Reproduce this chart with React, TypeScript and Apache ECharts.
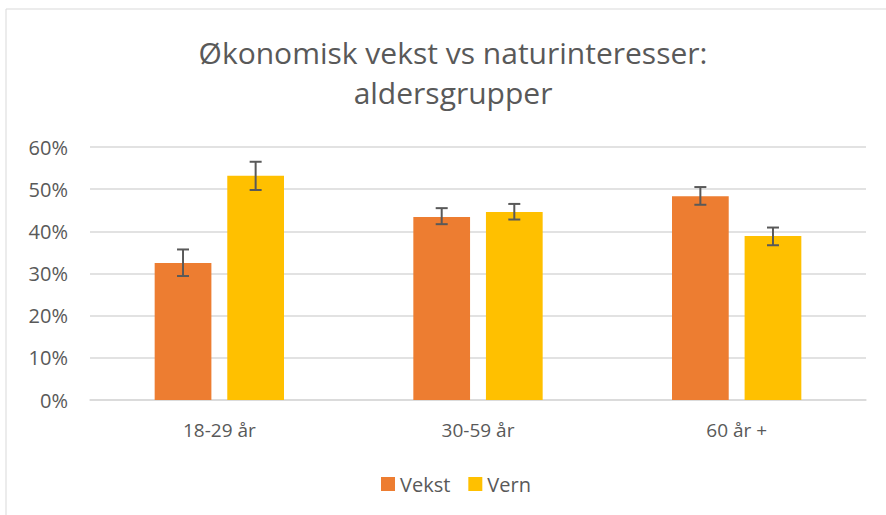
import React, { useEffect, useRef } from "react";
import * as echarts from "echarts";

const categories = ["18-29 år", "30-59 år", "60 år +"];
const vekst = [32.5, 43.4, 48.3];
const vern = [53.2, 44.6, 38.9];
const vekstLow = [29.4, 41.7, 46.3];
const vekstHigh = [35.7, 45.5, 50.5];
const vernLow = [49.8, 42.8, 36.7];
const vernHigh = [56.5, 46.5, 40.9];
const yTicks = [0, 10, 20, 30, 40, 50, 60];

const FONT = "Open Sans";
const GRAY = "#595959";
const BAR_CAT_GAP = 0.5;
const BAR_GAP = 0.28;

function makeErrorSeries(name: string, low: number[], high: number[], side: number) {
  return {
    type: "custom",
    name,
    silent: true,
    z: 10,
    data: categories.map((_, i) => [i, low[i], high[i]]),
    encode: { x: 0, y: [1, 2] },
    renderItem: (params: any, api: any) => {
      const idx = api.value(0);
      const band = api.size([1, 0])[0];
      const total = band * (1 - BAR_CAT_GAP);
      const w = total / (2 + BAR_GAP);
      const off = ((w + w * BAR_GAP) / 2) * side;
      const pLow = api.coord([idx, api.value(1)]);
      const pHigh = api.coord([idx, api.value(2)]);
      const x = pLow[0] + off;
      const cap = 6;
      const style = { stroke: GRAY, lineWidth: 2 };
      return {
        type: "group",
        children: [
          { type: "line", shape: { x1: x, y1: pLow[1], x2: x, y2: pHigh[1] }, style },
          { type: "line", shape: { x1: x - cap, y1: pLow[1], x2: x + cap, y2: pLow[1] }, style },
          { type: "line", shape: { x1: x - cap, y1: pHigh[1], x2: x + cap, y2: pHigh[1] }, style },
        ],
      };
    },
  };
}

export default function App() {
  const ref = useRef<HTMLDivElement>(null);
  useEffect(() => {
    document.body.style.margin = "0";
    if (!ref.current) return;
    const chart = echarts.init(ref.current, undefined, { renderer: "svg" });
    chart.setOption({
      animation: false,
      backgroundColor: "#ffffff",
      textStyle: { fontFamily: FONT },
      graphic: [
        {
          type: "rect",
          shape: { x: 6, y: 9, width: 900, height: 520 },
          style: { fill: "none", stroke: "#d9d9d9", lineWidth: 1 },
          silent: true,
        },
      ],
      title: {
        text: "Økonomisk vekst vs naturinteresser:\naldersgrupper",
        left: 448,
        textAlign: "center",
        top: 27,
        textStyle: {
          fontFamily: FONT,
          fontSize: 30,
          fontWeight: "normal",
          color: GRAY,
          lineHeight: 40,
        },
      },
      legend: {
        data: ["Vekst", "Vern"],
        top: 469,
        left: 376,
        icon: "rect",
        itemWidth: 14,
        itemHeight: 14,
        itemGap: 18,
        textStyle: { fontFamily: FONT, fontSize: 20, color: GRAY },
      },
      grid: { left: 90, right: 20, top: 147, bottom: 115, containLabel: false },
      xAxis: {
        type: "category",
        data: categories,
        axisLine: { show: true, lineStyle: { color: "#d9d9d9", width: 1.5 } },
        axisTick: { show: false },
        axisLabel: { fontFamily: FONT, fontSize: 19, color: GRAY, margin: 20 },
      },
      yAxis: {
        type: "value",
        min: yTicks[0],
        max: yTicks[yTicks.length - 1],
        interval: 10,
        axisLine: { show: false },
        axisTick: { show: false },
        splitLine: { lineStyle: { color: "#d9d9d9", width: 1.5 } },
        axisLabel: {
          fontFamily: FONT,
          fontSize: 20,
          color: GRAY,
          margin: 22,
          formatter: (v: number) => `${v}%`,
        },
      },
      series: [
        {
          type: "bar",
          name: "Vekst",
          data: vekst,
          itemStyle: { color: "#ED7D31" },
          barCategoryGap: `${BAR_CAT_GAP * 100}%`,
          barGap: `${BAR_GAP * 100}%`,
        },
        {
          type: "bar",
          name: "Vern",
          data: vern,
          itemStyle: { color: "#FFC000" },
          barCategoryGap: `${BAR_CAT_GAP * 100}%`,
          barGap: `${BAR_GAP * 100}%`,
        },
        makeErrorSeries("Vekst feil", vekstLow, vekstHigh, -1),
        makeErrorSeries("Vern feil", vernLow, vernHigh, 1),
      ],
    });
    return () => chart.dispose();
  }, []);
  return <div ref={ref} style={{ width: 886, height: 515 }} />;
}
